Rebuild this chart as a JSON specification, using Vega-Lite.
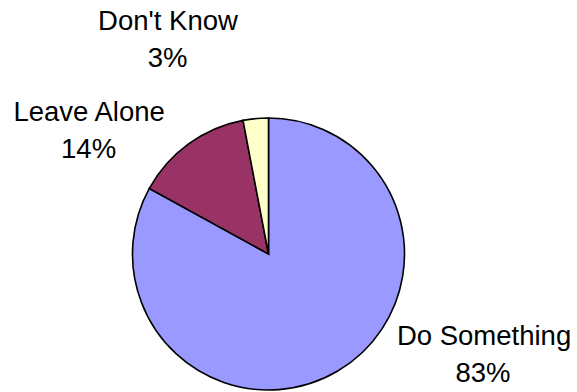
{
  "$schema": "https://vega.github.io/schema/vega-lite/v6.json",
  "width": 537,
  "height": 272,
  "autosize": {"type": "none"},
  "padding": {"left": 0, "top": 118, "right": 40, "bottom": 2},
  "background": "white",
  "config": {
    "view": {"stroke": null},
    "text": {"font": "Liberation Sans", "fontSize": 27.5, "fill": "black"}
  },
  "data": {
    "values": [
      {"category": "Do Something", "share": 0.83},
      {"category": "Leave Alone", "share": 0.14},
      {"category": "Don't Know", "share": 0.03}
    ]
  },
  "encoding": {
    "theta": {"field": "share", "type": "quantitative", "stack": true},
    "order": {"field": "share", "sort": "descending"}
  },
  "layer": [
    {
      "mark": {"type": "arc", "outerRadius": 136, "stroke": "black", "strokeWidth": 1.6},
      "encoding": {
        "color": {
          "field": "category",
          "type": "nominal",
          "scale": {"domain": ["Do Something", "Leave Alone", "Don't Know"], "range": ["#9999FF", "#993366", "#FFFFCC"]},
          "legend": null
        }
      }
    },
    {
      "mark": {"type": "text", "radius": 170, "align": "center", "baseline": "alphabetic", "dx": 129, "dy": -55},
      "encoding": {"text": {"condition": {"test": "datum.category == 'Do Something'", "field": "category", "type": "nominal"}, "value": ""}}
    },
    {
      "mark": {"type": "text", "radius": 170, "align": "center", "baseline": "alphabetic", "dx": 128, "dy": -18},
      "encoding": {"text": {"condition": {"test": "datum.category == 'Do Something'", "field": "share", "type": "quantitative", "format": ".0%"}, "value": ""}}
    },
    {
      "mark": {"type": "text", "radius": 170, "align": "center", "baseline": "alphabetic", "dx": -79.5, "dy": 5},
      "encoding": {"text": {"condition": {"test": "datum.category == 'Leave Alone'", "field": "category", "type": "nominal"}, "value": ""}}
    },
    {
      "mark": {"type": "text", "radius": 170, "align": "center", "baseline": "alphabetic", "dx": -80, "dy": 41.5},
      "encoding": {"text": {"condition": {"test": "datum.category == 'Leave Alone'", "field": "share", "type": "quantitative", "format": ".0%"}, "value": ""}}
    },
    {
      "mark": {"type": "text", "radius": 170, "align": "center", "baseline": "alphabetic", "dx": -84.5, "dy": -55},
      "encoding": {"text": {"condition": {"test": "datum.category == \"Don't Know\"", "field": "category", "type": "nominal"}, "value": ""}}
    },
    {
      "mark": {"type": "text", "radius": 170, "align": "center", "baseline": "alphabetic", "dx": -85, "dy": -17.7},
      "encoding": {"text": {"condition": {"test": "datum.category == \"Don't Know\"", "field": "share", "type": "quantitative", "format": ".0%"}, "value": ""}}
    }
  ]
}
